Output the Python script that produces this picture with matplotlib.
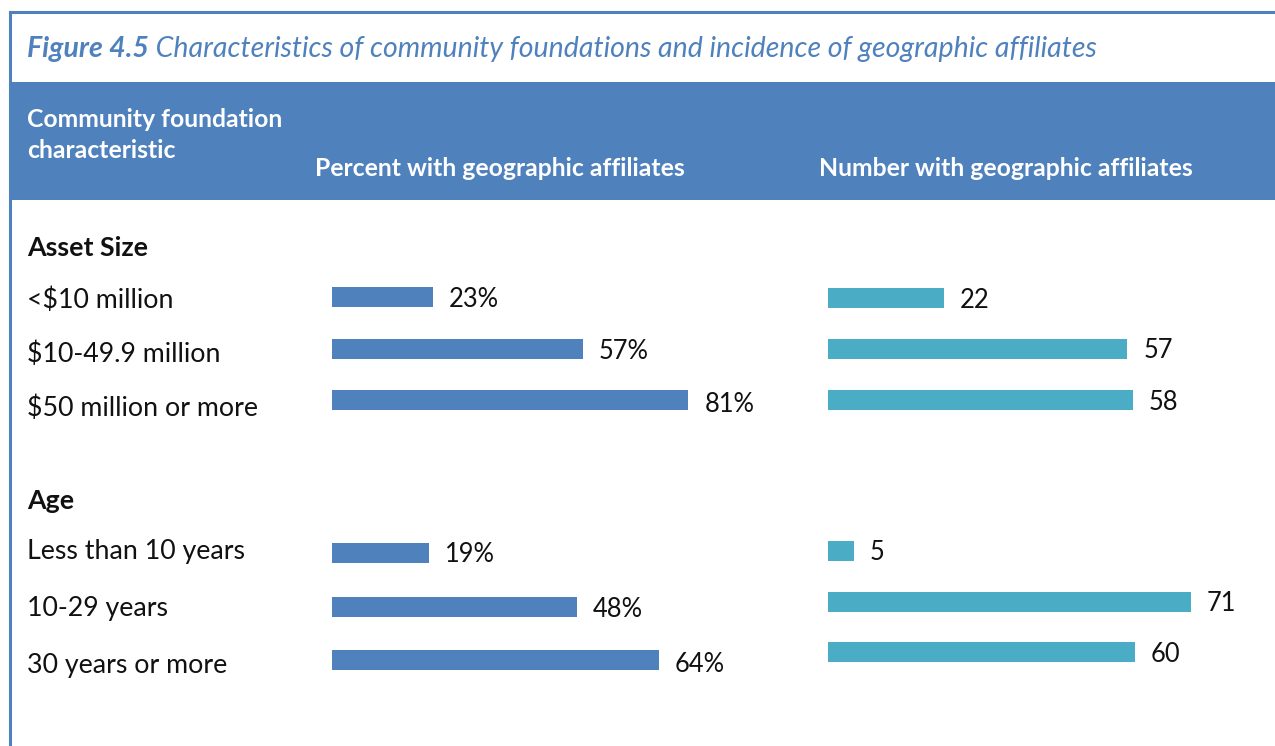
import matplotlib
matplotlib.use("Agg")
import matplotlib.pyplot as plt
from matplotlib.patches import Rectangle
from matplotlib.lines import Line2D
from matplotlib.transforms import blended_transform_factory

# ---- data ----
asset_labels = ["<$10 million", "$10-49.9 million", "$50 million or more"]
asset_pct = [23, 57, 81]
asset_num = [22, 57, 58]
age_labels = ["Less than 10 years", "10-29 years", "30 years or more"]
age_pct = [19, 48, 64]
age_num = [5, 71, 60]

title_bold = "Figure 4.5"
title_rest = " Characteristics of community foundations and incidence of geographic affiliates"
col_headers = ["Community foundation\ncharacteristic",
               "Percent with geographic affiliates",
               "Number with geographic affiliates"]
section_titles = ["Asset Size", "Age"]

BLUE = "#4f81bd"
TEAL = "#4bacc6"
FONT = "Lato"
TXT = "#111111"

W, H = 1275, 746
fig = plt.figure(figsize=(W / 100, H / 100), dpi=100)
fig.patch.set_facecolor("white")

def fx(x):
    return x / W

def fy(y):
    return 1 - y / H

# border and header band
fig.add_artist(Line2D([fx(10), fx(10)], [fy(12), fy(H + 5)], color=BLUE, lw=2.2, transform=fig.transFigure))
fig.add_artist(Line2D([fx(10), fx(W + 5)], [fy(12), fy(12)], color=BLUE, lw=2.2, transform=fig.transFigure))
fig.add_artist(Rectangle((fx(11), fy(200)), fx(W - 11), (200 - 82) / H, color=BLUE, transform=fig.transFigure, lw=0))

# title
TS = 20.5
t1 = fig.text(fx(27), fy(49), title_bold, color=BLUE, fontsize=TS, fontweight="bold", style="italic",
              family=FONT, va="center", ha="left")
fig.canvas.draw()
bb = t1.get_window_extent()
fig.text(bb.x1 / W, fy(49), title_rest, color=BLUE, fontsize=TS, style="italic",
         family=FONT, va="center", ha="left")

# headers
HS = 17.8
fig.text(fx(27), fy(135), col_headers[0], color="white", fontsize=HS, fontweight="bold",
         family=FONT, va="center", ha="left", linespacing=1.45)
fig.text(fx(315), fy(168), col_headers[1], color="white", fontsize=HS, fontweight="bold",
         family=FONT, va="center", ha="left")
fig.text(fx(819), fy(168), col_headers[2], color="white", fontsize=HS, fontweight="bold",
         family=FONT, va="center", ha="left")

# section titles
fig.text(fx(27), fy(248), section_titles[0], fontsize=19.3, fontweight="bold", family=FONT, va="center", color=TXT)
fig.text(fx(27), fy(501), section_titles[1], fontsize=19.3, fontweight="bold", family=FONT, va="center", color=TXT)


def panel(x0, yc, spacing, px_per_unit, values, color, fmt, val_offsets, labels=None, lab_offsets=None):
    n = len(values)
    width_px = 100 * px_per_unit
    height_px = n * spacing
    top = yc - height_px / 2
    ax = fig.add_axes([fx(x0), fy(top + height_px), width_px / W, height_px / H])
    ax.set_xlim(0, 100)
    ax.set_ylim(n - 0.5, -0.5)
    ax.axis("off")
    bh = 20 / spacing
    ax.barh(range(n), values, height=bh, color=color, edgecolor="none")
    for i, v in enumerate(values):
        ax.annotate(fmt(v), xy=(v, i), xytext=(11.5, -val_offsets[i] * 0.72), textcoords="offset points",
                    va="center", ha="left", fontsize=18.4, family=FONT, color=TXT)
    if labels is not None:
        tr = blended_transform_factory(fig.transFigure, ax.transData)
        for i, lab in enumerate(labels):
            ax.annotate(lab, xy=(fx(27), i), xycoords=tr, xytext=(0, -lab_offsets[i] * 0.72),
                        textcoords="offset points", va="center", ha="left", fontsize=19.3,
                        family=FONT, color=TXT)
    return ax

pct = lambda v: f"{v}%"
num = lambda v: f"{v}"

# Asset size
panel(332, 348.5, 51.5, 4.4, asset_pct, BLUE, pct, (2, 3, 4), asset_labels, lab_offsets=(3, 6, 8))
panel(828, 349, 51, 5.25, asset_num, TEAL, num, (2, 2, 2))
# Age
panel(332, 606.5, 53.5, 5.11, age_pct, BLUE, pct, (1, 3, 4), age_labels, lab_offsets=(-1, 2, 6))
panel(828, 601.5, 50.5, 5.11, age_num, TEAL, num, (2, 2, 2))

fig.savefig("out.png", dpi=100, facecolor="white")
